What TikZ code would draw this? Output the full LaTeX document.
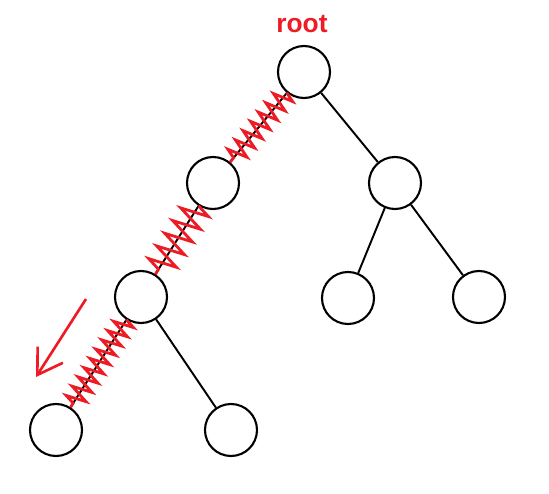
\documentclass[tikz,border=0pt]{standalone}
\usepackage{fontspec}
\setsansfont{Liberation Sans}
\usetikzlibrary{arrows.meta}
\usetikzlibrary{decorations.pathmorphing}

\begin{document}
\begin{tikzpicture}[x=0.02cm,y=-0.02cm]
\definecolor{markred}{RGB}{237,28,36}
\tikzset{
    treenode/.style={circle,draw=black,line width=1.2pt,minimum size=1.04cm,inner sep=0pt},
    treeedge/.style={black,line width=1.1pt},
    scribble/.style={markred,line width=1.6pt,decorate,
        decoration={zigzag,segment length=#1,amplitude=0.2cm}},
}
\useasboundingbox (0,0) rectangle (549,494);

\node[treenode] (r)   at (304,72)  {};
\node[treenode] (a)   at (213,183) {};
\node[treenode] (b)   at (395,183) {};
\node[treenode] (aa)  at (141,297) {};
\node[treenode] (ba)  at (348,298) {};
\node[treenode] (bb)  at (479,297) {};
\node[treenode] (aaa) at (56,430)  {};
\node[treenode] (aab) at (231,430) {};

\node[text=markred,font=\sffamily\bfseries\fontsize{15}{18}\selectfont] (rootlab)
    at (302,24) {root};

\foreach \u/\v in {r/a,r/b,a/aa,b/ba,b/bb,aa/aaa,aa/aab} {
    \draw[treeedge] (\u) -- (\v);
}

\draw[scribble=0.24cm] (r) -- (a);
\draw[scribble=0.3cm,decoration={amplitude=0.28cm}] (a) -- (aa);
\draw[scribble=0.22cm] (aa) -- (aaa);

\coordinate (dirstart) at (86,299);
\coordinate (dirend) at (36,377);
\draw[markred,line width=1.5pt,-{Straight Barb[length=0.48cm,width=0.6cm]}]
    (dirstart) -- (dirend);
\end{tikzpicture}
\end{document}
